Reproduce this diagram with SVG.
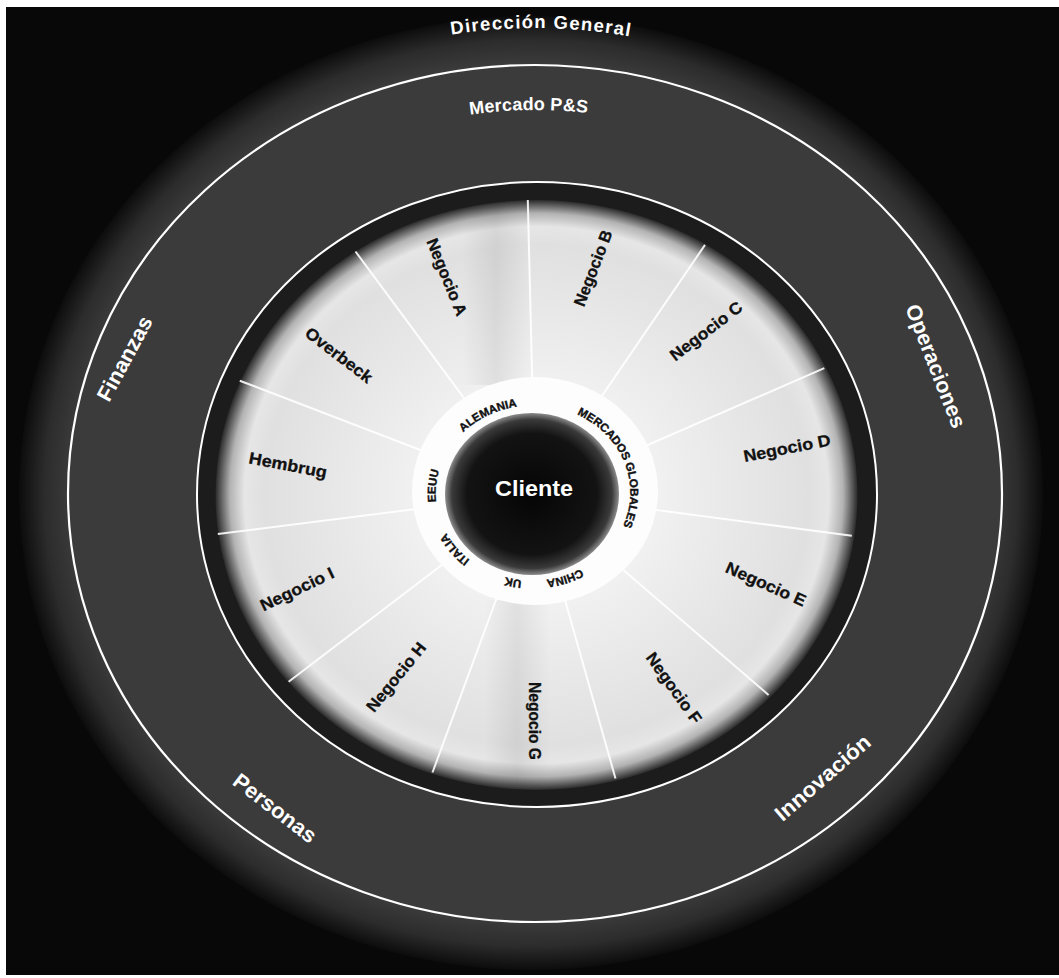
<svg xmlns="http://www.w3.org/2000/svg" width="1059" height="978" viewBox="0 0 1059 978">
<defs>
  <radialGradient id="gOuter" cx="50%" cy="50%" r="50%">
    <stop offset="0" stop-color="#4a4a4a"/>
    <stop offset="0.86" stop-color="#464646"/>
    <stop offset="0.95" stop-color="#2c2c2c"/>
    <stop offset="1" stop-color="#0c0c0c"/>
  </radialGradient>
  <radialGradient id="gWheel" cx="50%" cy="50%" r="50%">
    <stop offset="0" stop-color="#ffffff"/>
    <stop offset="0.45" stop-color="#eeeeee"/>
    <stop offset="0.85" stop-color="#e0e0e0"/>
    <stop offset="0.91" stop-color="#e6e6e6"/>
    <stop offset="0.955" stop-color="#b3b3b3"/>
    <stop offset="1" stop-color="#2a2a2a"/>
  </radialGradient>
  <radialGradient id="gClient" cx="50%" cy="50%" r="50%">
    <stop offset="0" stop-color="#050505"/>
    <stop offset="0.75" stop-color="#131313"/>
    <stop offset="0.92" stop-color="#3a3a3a"/>
    <stop offset="1" stop-color="#8c8c8c"/>
  </radialGradient>
  <linearGradient id="gBand" x1="0" x2="1" y1="0" y2="0">
    <stop offset="0" stop-color="#000" stop-opacity="0"/>
    <stop offset="0.5" stop-color="#000" stop-opacity="0.07"/>
    <stop offset="1" stop-color="#000" stop-opacity="0"/>
  </linearGradient>
  <clipPath id="wheelClip"><ellipse cx="536.5" cy="495" rx="318" ry="292"/></clipPath>
  <path id="arcDG" d="M 32 494 A 503 466 0 0 1 1038 494"/>
  <path id="arcMPS" d="M 120 494 A 415 384 0 0 1 950 494"/>
  <path id="arcRing" d="M 487 570.7 A 98 88 0 0 1 579 415.3 A 98 88 0 0 1 487 570.7"/>
</defs>
<style>
  .w { fill:#ffffff; font-family:"Liberation Sans", Arial, sans-serif; font-weight:bold; }
  .lab { font-size:21.5px; text-anchor:middle; }
  .seg { fill:#111111; stroke:#111111; stroke-width:0.3; font-family:"Liberation Sans", Arial, sans-serif; font-weight:bold; font-size:16.5px; text-anchor:middle; }
  .ring { fill:#111111; stroke:#111111; stroke-width:0.4; font-family:"Liberation Sans", Arial, sans-serif; font-weight:bold; font-size:11.5px; text-anchor:middle; }
  .div { stroke:#ffffff; stroke-width:2; stroke-opacity:0.9; fill:none; }
</style>

<rect x="0" y="0" width="1059" height="978" fill="#ffffff"/>
<rect x="6" y="7" width="1053" height="968" fill="#080808"/>

<g id="outer-rings">
  <ellipse cx="531" cy="493" rx="512" ry="477" fill="url(#gOuter)"/>
  <ellipse cx="535" cy="493.5" rx="467" ry="428.5" fill="#3b3b3b" stroke="#ffffff" stroke-width="2.2"/>
  <ellipse cx="537" cy="494.5" rx="340" ry="312.5" fill="#1c1c1c" stroke="#ffffff" stroke-width="2"/>
</g>

<g id="wheel">
  <ellipse cx="536.5" cy="495" rx="321" ry="295" fill="url(#gWheel)"/>
  <g clip-path="url(#wheelClip)">
    <rect x="462" y="200" width="68" height="185" fill="url(#gBand)"/>
    <rect x="484" y="600" width="66" height="195" fill="url(#gBand)"/>
  </g>
</g>

<g id="connectors">
  <line class="div" x1="535" y1="494" x2="527.8" y2="200.1"/>
  <line class="div" x1="535" y1="494" x2="705" y2="244.9"/>
  <line class="div" x1="535" y1="494" x2="824.3" y2="368.2"/>
  <line class="div" x1="535" y1="494" x2="851.8" y2="535.7"/>
  <line class="div" x1="535" y1="494" x2="768.6" y2="694.9"/>
  <line class="div" x1="535" y1="494" x2="615.5" y2="778.5"/>
  <line class="div" x1="535" y1="494" x2="432.5" y2="772.5"/>
  <line class="div" x1="535" y1="494" x2="288.6" y2="681.7"/>
  <line class="div" x1="535" y1="494" x2="217.8" y2="534"/>
  <line class="div" x1="535" y1="494" x2="239.8" y2="380.7"/>
  <line class="div" x1="535" y1="494" x2="355.5" y2="251.5"/>
</g>

<g id="node-mercados-ring">
  <ellipse cx="535" cy="491" rx="123" ry="114" fill="#fdfdfd"/>
  <text class="ring"><textPath href="#arcRing" startOffset="6.6%">ITALIA</textPath></text>
  <text class="ring"><textPath href="#arcRing" startOffset="18.1%">EEUU</textPath></text>
  <text class="ring"><textPath href="#arcRing" startOffset="33.9%">ALEMANIA</textPath></text>
  <text class="ring"><textPath href="#arcRing" startOffset="61.2%">MERCADOS GLOBALES</textPath></text>
  <text class="ring"><textPath href="#arcRing" startOffset="86.4%">CHINA</textPath></text>
  <text class="ring"><textPath href="#arcRing" startOffset="95.2%">UK</textPath></text>
</g>

<g id="node-cliente">
  <ellipse cx="532" cy="494" rx="87" ry="81" fill="url(#gClient)"/>
  <text class="w" x="534" y="495.5" font-size="21.5" text-anchor="middle" textLength="78" lengthAdjust="spacingAndGlyphs">Cliente</text>
</g>

<g id="node-direccion-general">
  <text class="w" font-size="18.5" letter-spacing="1.3"><textPath href="#arcDG" startOffset="50.4%" text-anchor="middle">Dirección General</textPath></text>
</g>
<g id="node-mercado-ps">
  <text class="w" font-size="18" letter-spacing="0.2"><textPath href="#arcMPS" startOffset="49.5%" text-anchor="middle">Mercado P&amp;S</textPath></text>
</g>
<g id="node-finanzas">
  <text class="w lab" transform="translate(124.5 358.5) rotate(-61.5)" dy="0.35em" textLength="93" lengthAdjust="spacingAndGlyphs">Finanzas</text>
</g>
<g id="node-operaciones">
  <text class="w lab" transform="translate(936 366) rotate(68.5)" dy="0.35em" textLength="131" lengthAdjust="spacingAndGlyphs">Operaciones</text>
</g>
<g id="node-personas">
  <text class="w lab" transform="translate(275 808) rotate(37.6)" dy="0.35em" textLength="99" lengthAdjust="spacingAndGlyphs">Personas</text>
</g>
<g id="node-innovacion">
  <text class="w lab" transform="translate(822.5 777.5) rotate(-41)" dy="0.35em" textLength="119" lengthAdjust="spacingAndGlyphs">Innovación</text>
</g>

<g id="node-negocio-a"><text class="seg" transform="translate(447 277) rotate(68)" dy="0.35em" textLength="82" lengthAdjust="spacingAndGlyphs">Negocio A</text></g>
<g id="node-negocio-b"><text class="seg" transform="translate(593 268) rotate(-69)" dy="0.35em" textLength="80" lengthAdjust="spacingAndGlyphs">Negocio B</text></g>
<g id="node-negocio-c"><text class="seg" transform="translate(706 331) rotate(-37.4)" dy="0.35em" textLength="86" lengthAdjust="spacingAndGlyphs">Negocio C</text></g>
<g id="node-negocio-d"><text class="seg" transform="translate(787 448) rotate(-11)" dy="0.35em" textLength="88.5" lengthAdjust="spacingAndGlyphs">Negocio D</text></g>
<g id="node-negocio-e"><text class="seg" transform="translate(766 584) rotate(24)" dy="0.35em" textLength="86" lengthAdjust="spacingAndGlyphs">Negocio E</text></g>
<g id="node-negocio-f"><text class="seg" transform="translate(674 688) rotate(54.4)" dy="0.35em" textLength="83" lengthAdjust="spacingAndGlyphs">Negocio F</text></g>
<g id="node-negocio-g"><text class="seg" transform="translate(535 721) rotate(90)" dy="0.35em" textLength="78" lengthAdjust="spacingAndGlyphs">Negocio G</text></g>
<g id="node-negocio-h"><text class="seg" transform="translate(396 677) rotate(-51)" dy="0.35em" textLength="84" lengthAdjust="spacingAndGlyphs">Negocio H</text></g>
<g id="node-negocio-i"><text class="seg" transform="translate(297 589) rotate(-25.6)" dy="0.35em" textLength="80" lengthAdjust="spacingAndGlyphs">Negocio I</text></g>
<g id="node-hembrug"><text class="seg" transform="translate(288 465) rotate(10.7)" dy="0.35em" textLength="79" lengthAdjust="spacingAndGlyphs">Hembrug</text></g>
<g id="node-overbeck"><text class="seg" transform="translate(339 355) rotate(37.6)" dy="0.35em" textLength="80" lengthAdjust="spacingAndGlyphs">Overbeck</text></g>
</svg>
